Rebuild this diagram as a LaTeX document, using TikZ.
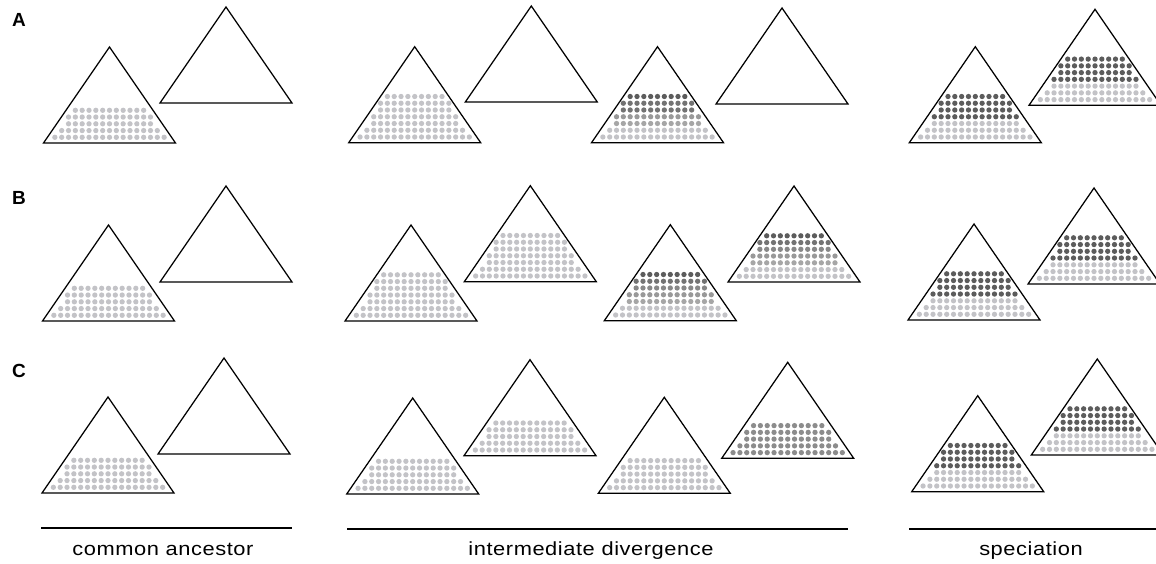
\documentclass[tikz,border=0pt]{standalone}
\usepackage{fontspec}
\setmainfont{Liberation Sans}
\newfontfamily\capfont[FakeStretch=1.15,LetterSpace=3]{Liberation Sans}
\definecolor{dotL}{HTML}{C3C3C7}
\definecolor{dotMa}{HTML}{A6A6A6}
\definecolor{dotMb}{HTML}{999999}
\definecolor{dotMc}{HTML}{888888}
\definecolor{dotMd}{HTML}{737373}
\definecolor{dotD}{HTML}{5C5C5C}
\definecolor{dotC}{HTML}{8C8C8C}
\newcommand\pyr[3]{%
  \coordinate (#1) at (#2,#3);
  \draw[tri] (#2-66,#3) -- (#2+66,#3) -- (#2,#3-96) -- cycle;}
\newcommand\dotpile[3]{%
  \foreach \c [count=\i] in {#3} {
    \pgfmathtruncatemacro\n{{17,15,13,13,11,11,9}[\i-1]}
    \pgfmathsetmacro\yy{#2-5.7-6.75*(\i-1)}
    \foreach \k in {1,...,\n} {
      \fill[\c] ({#1+(\k-(\n+1)/2)*6.83},\yy) circle[radius=2.65];
    }
  }}
\begin{document}
\begin{tikzpicture}[x=1pt,y=-1pt,
  tri/.style={draw=black,line width=1.25pt,line join=miter},
  rulebar/.style={draw=black,line width=1.6pt},
  captxt/.style={font=\capfont\fontsize{19}{22}\selectfont,anchor=base,inner sep=0pt},
  paneltxt/.style={font=\fontsize{19}{22}\selectfont\bfseries}]
\useasboundingbox (0,0) rectangle (1156,563);
% ---------- dots ----------
% Row A
\dotpile{109.5}{143}{dotL,dotL,dotL,dotL,dotL}
\dotpile{414.7}{142.7}{dotL,dotL,dotL,dotL,dotL,dotL,dotL}
\dotpile{657.5}{142.7}{dotL,dotL,dotMa,dotMb,dotMd,dotMd,dotD}
\dotpile{975.3}{142.7}{dotL,dotL,dotL,dotD,dotD,dotD,dotD}
\dotpile{1095}{105.3}{dotL,dotL,dotL,dotD,dotD,dotD,dotD}
% Row B
\dotpile{108.5}{321}{dotL,dotL,dotL,dotL,dotL}
\dotpile{411}{321}{dotL,dotL,dotL,dotL,dotL,dotL,dotL}
\dotpile{530.3}{281.7}{dotL,dotL,dotL,dotL,dotL,dotL,dotL}
\dotpile{670.3}{320.7}{dotL,dotL,dotMa,dotMb,dotMc,dotMd,dotD}
\dotpile{794}{282}{dotL,dotL,dotMa,dotMb,dotMc,dotMd,dotD}
\dotpile{974}{320}{dotL,dotL,dotL,dotD,dotD,dotD,dotD}
\dotpile{1094}{284}{dotL,dotL,dotL,dotD,dotD,dotD,dotD}
% Row C
\dotpile{108}{493}{dotL,dotL,dotL,dotL,dotL}
\dotpile{412.7}{494}{dotL,dotL,dotL,dotL,dotL}
\dotpile{530}{455.7}{dotL,dotL,dotL,dotL,dotL}
\dotpile{664.3}{493.3}{dotL,dotL,dotL,dotL,dotL}
\dotpile{787.7}{458.3}{dotC,dotC,dotC,dotC,dotC}
\dotpile{977.7}{491.7}{dotL,dotL,dotL,dotD,dotD,dotD,dotD}
\dotpile{1097.3}{455}{dotL,dotL,dotL,dotD,dotD,dotD,dotD}
% ---------- triangles ----------
\pyr{Ac1}{109.5}{143}
\pyr{Ac2}{226}{103}
\pyr{Ai1}{414.7}{142.7}
\pyr{Ai2}{531.3}{102}
\pyr{Ai3}{657.5}{142.7}
\pyr{Ai4}{782}{104}
\pyr{As1}{975.3}{142.7}
\pyr{As2}{1095}{105.3}
\pyr{Bc1}{108.5}{321}
\pyr{Bc2}{226}{282}
\pyr{Bi1}{411}{321}
\pyr{Bi2}{530.3}{281.7}
\pyr{Bi3}{670.3}{320.7}
\pyr{Bi4}{794}{282}
\pyr{Bs1}{974}{320}
\pyr{Bs2}{1094}{284}
\pyr{Cc1}{108}{493}
\pyr{Cc2}{224}{454}
\pyr{Ci1}{412.7}{494}
\pyr{Ci2}{530}{455.7}
\pyr{Ci3}{664.3}{493.3}
\pyr{Ci4}{787.7}{458.3}
\pyr{Cs1}{977.7}{491.7}
\pyr{Cs2}{1097.3}{455}
% ---------- panel letters ----------
\node[paneltxt] (lA) at (19,20) {A};
\node[paneltxt] (lB) at (19,198) {B};
\node[paneltxt] (lC) at (19,371) {C};
% ---------- bottom rules and captions ----------
\coordinate (r1a) at (41,528);  \coordinate (r1b) at (292,528);
\coordinate (r2a) at (347,529); \coordinate (r2b) at (848,529);
\coordinate (r3a) at (909,529); \coordinate (r3b) at (1160,529);
\draw[rulebar] (r1a) -- (r1b);
\draw[rulebar] (r2a) -- (r2b);
\draw[rulebar] (r3a) -- (r3b);
\node[captxt] (t1) at (163,555.5) {common ancestor};
\node[captxt] (t2) at (591,555.5) {intermediate divergence};
\node[captxt] (t3) at (1031,555.5) {speciation};
\end{tikzpicture}
\end{document}
